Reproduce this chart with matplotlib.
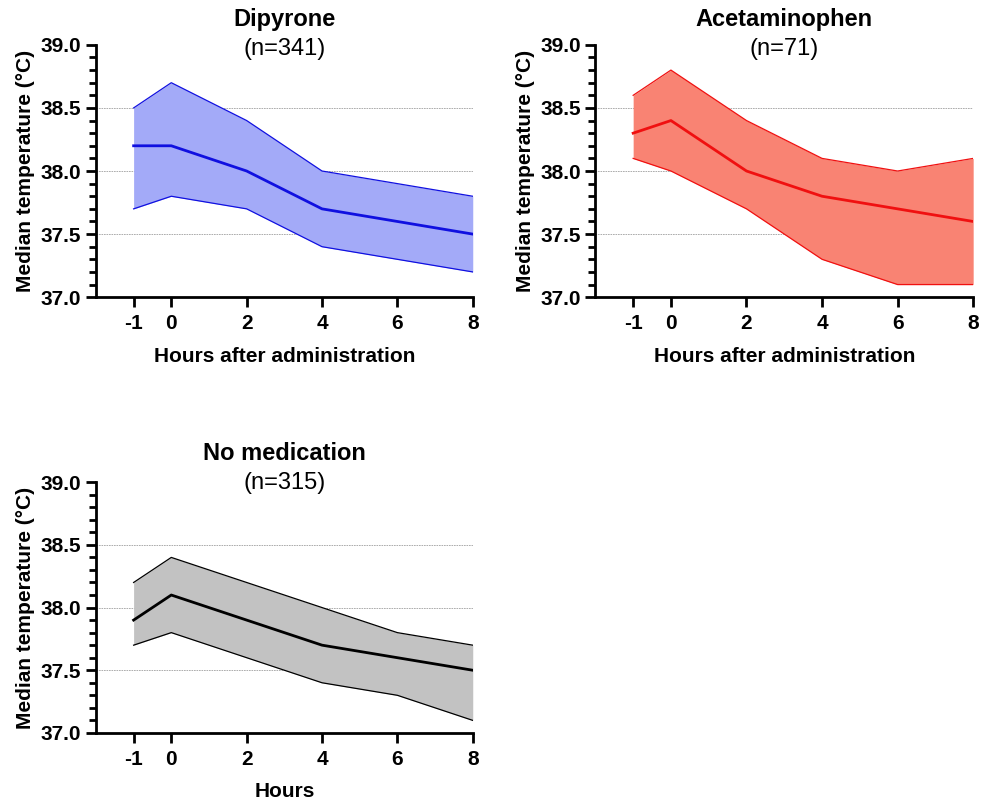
import matplotlib.pyplot as plt
from matplotlib.ticker import MultipleLocator

plt.rcParams['font.family'] = ['Liberation Sans', 'DejaVu Sans']

# Data
hours = [-1, 0, 2, 4, 6, 8]

dipyrone_median = [38.2, 38.2, 38.0, 37.7, 37.6, 37.5]
dipyrone_upper = [38.5, 38.7, 38.4, 38.0, 37.9, 37.8]
dipyrone_lower = [37.7, 37.8, 37.7, 37.4, 37.3, 37.2]

acet_median = [38.3, 38.4, 38.0, 37.8, 37.7, 37.6]
acet_upper = [38.6, 38.8, 38.4, 38.1, 38.0, 38.1]
acet_lower = [38.1, 38.0, 37.7, 37.3, 37.1, 37.1]

nomed_median = [37.9, 38.1, 37.9, 37.7, 37.6, 37.5]
nomed_upper = [38.2, 38.4, 38.2, 38.0, 37.8, 37.7]
nomed_lower = [37.7, 37.8, 37.6, 37.4, 37.3, 37.1]

# title, subtitle, median, upper, lower, line colour, fill colour, xlabel, axes pos, title y, subtitle y
panels = [
    ("Dipyrone", "(n=341)", dipyrone_median, dipyrone_upper, dipyrone_lower,
     "#1010e0", "#a3aaf8", "Hours after administration",
     [0.097, 0.629, 0.381, 0.315], 1.10, 0.985),
    ("Acetaminophen", "(n=71)", acet_median, acet_upper, acet_lower,
     "#f01010", "#f98373", "Hours after administration",
     [0.602, 0.629, 0.382, 0.315], 1.10, 0.985),
    ("No medication", "(n=315)", nomed_median, nomed_upper, nomed_lower,
     "#000000", "#c2c2c2", "Hours",
     [0.097, 0.085, 0.381, 0.313], 1.115, 0.997),
]

fig = plt.figure(figsize=(9.89, 8.01), dpi=100)

for title, n_text, med, up, lo, lc, fc, xlabel, pos, ty, ny in panels:
    ax = fig.add_axes(pos)
    for yv in [37.5, 38.0, 38.5]:
        ax.plot([-2, 8], [yv, yv], color='#a0a0a0', lw=0.6, ls=(0, (2, 1)), zorder=1)
    ax.fill_between(hours, lo, up, color=fc, zorder=2, lw=0)
    ax.plot(hours, up, color=lc, lw=0.9, zorder=3)
    ax.plot(hours, lo, color=lc, lw=0.9, zorder=3)
    ax.plot(hours, med, color=lc, lw=2.0, zorder=4)

    ax.set_xlim(-2, 8)
    ax.set_ylim(37.0, 39.0)
    ax.set_xticks(hours)
    ax.set_xticklabels([str(h) for h in hours])
    ax.yaxis.set_major_locator(MultipleLocator(0.5))
    ax.yaxis.set_minor_locator(MultipleLocator(0.1))
    ax.set_yticklabels([f"{v:.1f}" for v in ax.get_yticks()])

    for side in ['top', 'right']:
        ax.spines[side].set_visible(False)
    for side in ['left', 'bottom']:
        ax.spines[side].set_linewidth(2)
    ax.tick_params(axis='both', which='major', width=2, length=7,
                   labelsize=15, direction='out')
    ax.tick_params(axis='y', which='minor', width=2, length=5, direction='out')
    ax.tick_params(axis='x', pad=5)
    for lab in ax.get_xticklabels() + ax.get_yticklabels():
        lab.set_fontweight('bold')

    ax.set_ylabel("Median temperature (°C)", fontsize=15, fontweight='bold')
    ax.set_xlabel(xlabel, fontsize=15, fontweight='bold', labelpad=10)

    ax.text(0.5, ty, title, transform=ax.transAxes, ha='center', va='center',
            fontsize=17, fontweight='bold')
    ax.text(0.5, ny, n_text, transform=ax.transAxes, ha='center', va='center',
            fontsize=17)

fig.savefig("out.png", dpi=100)
